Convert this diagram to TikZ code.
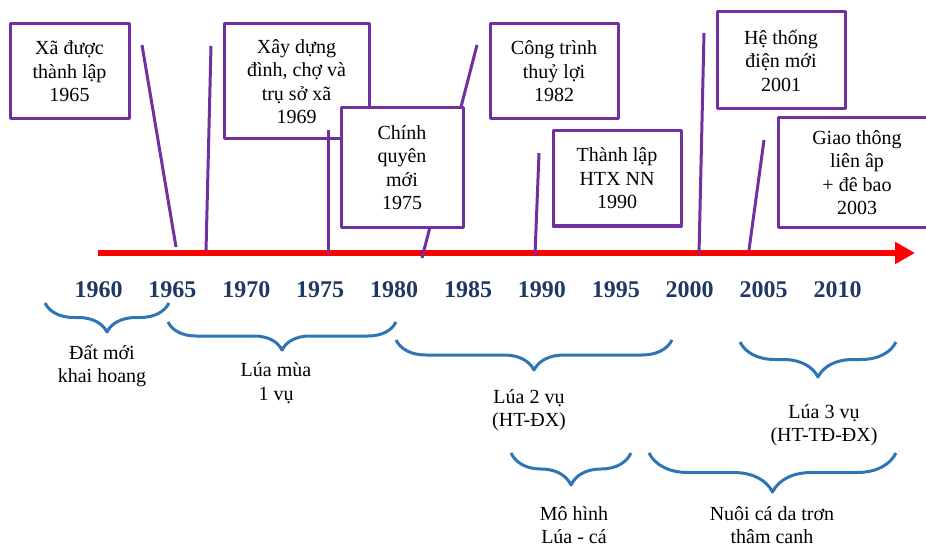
\documentclass[tikz,border=0pt]{standalone}
\usepackage{fontspec}
\setmainfont{Liberation Serif}
\usetikzlibrary{arrows.meta,decorations.pathreplacing}
\definecolor{boxpurple}{HTML}{7030A0}
\definecolor{braceblue}{HTML}{2E75B6}
\definecolor{yearblue}{HTML}{1F3864}

\begin{document}
\begin{tikzpicture}[x=1pt,y=-1pt,>={Triangle[length=20pt,width=21pt]},
                    line join=round]
  \tikzstyle{event}=[draw=boxpurple,line width=3pt,fill=white,align=center,
                     inner sep=0pt,font=\fontsize{20}{23.5}\selectfont]
  \tikzstyle{lead}=[draw=boxpurple,line width=3pt]
  \tikzstyle{period}=[draw=braceblue,line width=3pt,decorate]
  \tikzstyle{phase}=[align=center,font=\fontsize{20}{23.5}\selectfont]
  \tikzstyle{year}=[text=yearblue,font=\fontsize{24}{24}\selectfont\bfseries]

  \useasboundingbox (0,0) rectangle (926,548);

  \coordinate (start) at (98,253);
  \coordinate (end)   at (915,253);
  \draw[->,red,line width=6.5pt] (start) -- (end);

  \foreach \y [count=\i from 0] in {1960,1965,...,2010}
    \node[year] (y\y) at (98.5+73.9*\i,290) {\y};

  \coordinate (l82a) at (477,45);  \coordinate (l82b) at (422,258);
  \draw[lead] (l82a) -- (l82b);

  \node[event,minimum width=119pt,minimum height=95pt]  (e65) at (69.5,71.5)
       {Xã được\\thành lập\\1965};
  \node[event,minimum width=145pt,minimum height=115pt] (e69) at (296.5,81.5)
       {Xây dựng\\đình, chợ và\\trụ sở xã\\1969};
  \node[event,minimum width=122pt,minimum height=119pt] (e75) at (402,167.5)
       {Chính\\quyên\\mới\\1975};
  \node[event,minimum width=128pt,minimum height=95pt]  (e82) at (554,71.5)
       {Công trình\\thuỷ lợi\\1982};
  \node[event,minimum width=128pt,minimum height=95pt]  (e90) at (617,178.5)
       {Thành lập\\HTX NN\\1990};
  \node[event,minimum width=128pt,minimum height=97pt]  (e01) at (781,60.5)
       {Hệ thống\\điện mới\\2001};
  \node[event,minimum width=158pt,minimum height=109pt] (e03) at (857,172.5)
       {Giao thông\\liên âp\\+ đê bao\\2003};

  \coordinate (l65a) at (142,45);  \coordinate (l65b) at (176,247);
  \coordinate (l69a) at (211,46);  \coordinate (l69b) at (206,251);
  \coordinate (l75a) at (328,130); \coordinate (l75b) at (328,254);
  \coordinate (l90a) at (539,153); \coordinate (l90b) at (535,255);
  \coordinate (l01a) at (704,33);  \coordinate (l01b) at (699,254);
  \coordinate (l03a) at (764,140); \coordinate (l03b) at (749,250);
  \draw[lead] (l65a) -- (l65b);
  \draw[lead] (l69a) -- (l69b);
  \draw[lead] (l75a) -- (l75b);
  \draw[lead] (l90a) -- (l90b);
  \draw[lead] (l01a) -- (l01b);
  \draw[lead] (l03a) -- (l03b);

  \coordinate (b1l) at (45,303);  \coordinate (b1r) at (169,303);
  \coordinate (b2l) at (168,322); \coordinate (b2r) at (396,322);
  \coordinate (b3l) at (396,340); \coordinate (b3r) at (672,340);
  \coordinate (b4l) at (740,342); \coordinate (b4r) at (896,342);
  \coordinate (b5l) at (511,453); \coordinate (b5r) at (631,453);
  \coordinate (b6l) at (649,453); \coordinate (b6r) at (896,453);
  \draw[period,decoration={brace,amplitude=29pt}] (b1r) -- (b1l);
  \draw[period,decoration={brace,amplitude=28pt}] (b2r) -- (b2l);
  \draw[period,decoration={brace,amplitude=30pt}] (b3r) -- (b3l);
  \draw[period,decoration={brace,amplitude=35pt}] (b4r) -- (b4l);
  \draw[period,decoration={brace,amplitude=32pt}] (b5r) -- (b5l);
  \draw[period,decoration={brace,amplitude=39pt}] (b6r) -- (b6l);

  \node[phase] (p1) at (102,366) {Đất mới\\khai hoang};
  \node[phase] (p2) at (276,383) {Lúa mùa\\1 vụ};
  \node[phase] (p3) at (529,410) {Lúa 2 vụ\\(HT-ĐX)};
  \node[phase] (p4) at (824,425) {Lúa 3 vụ\\(HT-TĐ-ĐX)};
  \node[phase] (p5) at (574,525) {Mô hình\\Lúa - cá};
  \node[phase] (p6) at (772,525) {Nuôi cá da trơn\\thâm canh};
\end{tikzpicture}
\end{document}
